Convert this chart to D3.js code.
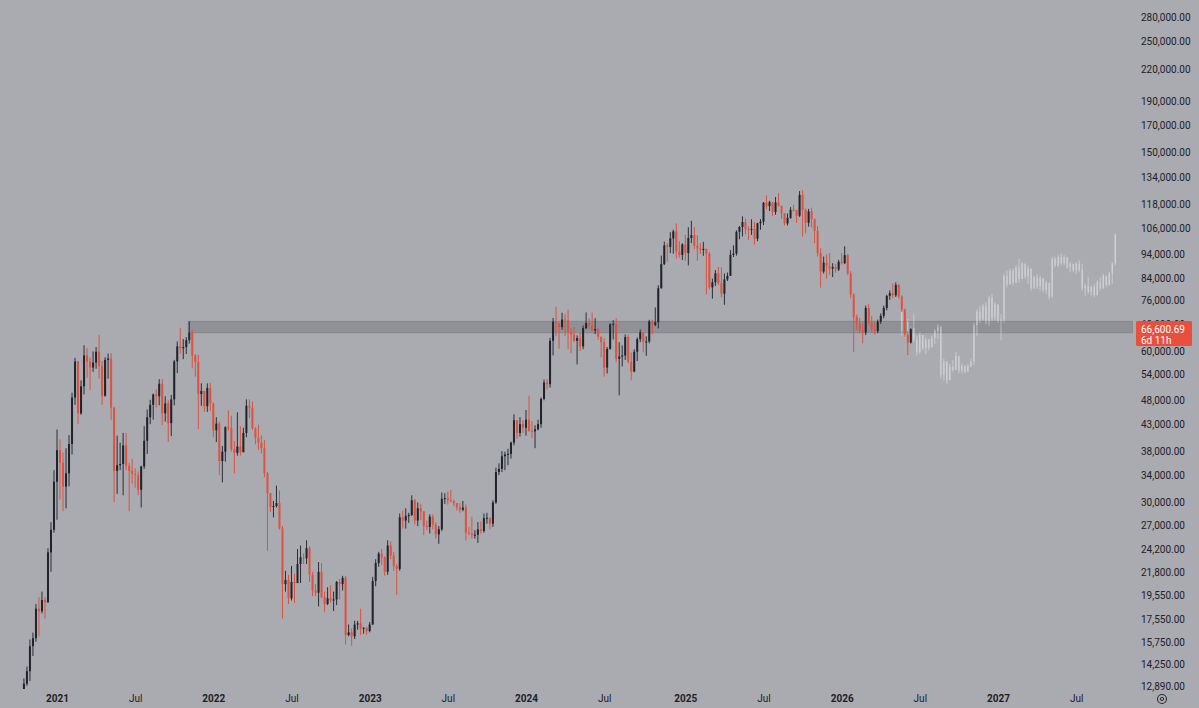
<!DOCTYPE html>
<html>
<head>
<meta charset="utf-8">
<script src="https://cdn.jsdelivr.net/npm/d3@7"></script>
<style>
  html, body { margin: 0; padding: 0; background: #a9abb0; }
  svg { display: block; }
  text { font-family: Roboto, "Liberation Sans", sans-serif; }
</style>
</head>
<body>
<div class="chart"></div>
<script>
// weekly candles, prices in thousands of USD, open = previous close
var weekStart = "2020-10-19";
var firstOpen = 11.5;

var close = [
  13.03, 13.8, 15.48, 16.06, 18.4, 18.18, 19.15, 18.95, 23.84, 26.45, 33.0,
  // 2021
  38.15, 36.0, 32.26, 34.3, 39.25, 48.6, 57.4, 45.2, 51.2, 59.0, 57.3, 55.8, 57.1,
  60.0, 56.2, 49.0, 57.8, 58.2, 46.4, 34.7, 35.6, 35.8, 39.0, 35.5, 34.7, 34.2,
  34.0, 31.8, 35.4, 39.85, 44.4, 47.0, 49.3, 48.9, 51.8, 45.2, 47.3, 43.2, 48.2,
  57.4, 61.5, 61.0, 61.3, 63.3, 65.5, 59.0, 57.2, 49.4, 50.1, 46.7, 50.8, 47.3,
  // 2022
  41.8, 43.1, 36.3, 37.9, 42.4, 42.2, 38.3, 37.7, 38.8, 37.8, 41.3, 46.8, 46.4,
  42.2, 40.4, 39.5, 38.5, 34.3, 31.3, 29.4, 29.5, 29.9, 26.6, 20.6, 21.0, 19.3,
  20.8, 20.7, 22.6, 23.3, 23.2, 24.3, 21.5, 20.0, 19.8, 21.8, 19.4, 18.8, 19.3,
  19.1, 19.2, 20.8, 20.6, 21.2, 16.3, 16.5, 16.2, 17.1, 17.2, 16.8, 16.85, 16.6,
  // 2023
  17.1, 20.9, 22.7, 23.7, 23.3, 21.8, 24.6, 23.5, 22.4, 22.1, 28.0, 27.6, 28.2,
  28.3, 30.3, 27.6, 29.2, 28.8, 26.9, 26.8, 28.1, 27.1, 25.9, 26.5, 30.5, 30.6,
  30.3, 30.2, 29.9, 29.3, 29.0, 29.3, 26.1, 26.0, 25.8, 25.85, 26.5, 26.3, 27.9,
  27.95, 27.2, 30.0, 34.5, 35.0, 37.1, 37.4, 37.5, 39.5, 43.8, 41.3, 43.0, 42.3,
  // 2024
  43.9, 41.7, 41.6, 42.0, 43.0, 48.3, 52.1, 51.7, 63.1, 68.9, 68.4, 67.2, 69.6,
  69.4, 65.7, 64.9, 63.1, 63.9, 61.5, 66.9, 68.5, 67.7, 66.2, 66.6, 64.3, 62.7,
  55.8, 60.8, 68.1, 68.2, 58.1, 58.7, 59.0, 64.2, 57.3, 54.8, 60.0, 63.6, 65.6,
  62.8, 62.9, 69.0, 67.9, 68.7, 80.4, 89.8, 97.9, 97.2, 101.1, 104.4, 95.2, 93.7, 98.3,
  // 2025
  94.5, 101.3, 102.6, 97.7, 96.5, 96.2, 96.3, 94.2, 80.7, 82.6, 86.1, 82.3, 78.4,
  83.7, 85.1, 93.7, 94.3, 104.2, 106.5, 109.0, 105.7, 105.5, 105.6, 100.9, 108.4, 109.2,
  119.1, 117.3, 119.4, 114.2, 119.3, 117.4, 113.5, 108.3, 111.1, 115.3, 115.2, 112.2, 123.5,
  115.2, 108.6, 114.5, 110.5, 104.7, 94.5, 86.8, 90.4,
  89.0, 88.0, 88.6, 87.6, 90.8,
  // 2026
  90.2, 93.6, 86.0, 78.0, 70.4, 68.3, 66.4, 65.6, 73.4, 68.6, 66.6, 66.0, 68.9,
  70.8, 73.4, 77.6, 78.6, 77.8, 81.6, 77.4, 72.8, 65.0, 62.6, 66.60069
];

var high = [
  13.35, 14.1, 15.96, 16.48, 18.8, 19.4, 19.9, 19.4, 24.3, 27.4, 34.8,
  41.95, 40.1, 37.8, 38.5, 40.9, 49.7, 58.35, 57.5, 52.6, 61.8, 61.0, 58.4, 60.1,
  61.3, 64.85, 57.5, 58.5, 59.5, 59.6, 46.6, 40.8, 39.5, 41.3, 41.3, 36.0, 36.6,
  35.1, 34.6, 35.5, 42.6, 46.0, 48.1, 49.5, 50.5, 52.9, 52.9, 48.9, 48.0, 49.2,
  57.8, 62.9, 67.0, 63.6, 64.2, 69.0, 66.3, 59.4, 59.2, 51.9, 50.2, 51.9, 52.0,
  47.5, 44.4, 43.5, 38.9, 42.6, 45.8, 44.7, 39.8, 45.4, 42.6, 42.3, 48.2, 48.2,
  47.7, 42.4, 42.9, 40.8, 40.0, 34.5, 31.0, 30.2, 32.4, 31.7, 26.9, 21.9, 21.5,
  22.4, 21.6, 24.2, 24.6, 23.7, 25.2, 24.5, 21.8, 20.6, 22.8, 22.7, 19.9, 20.3,
  20.5, 19.9, 20.9, 21.1, 21.4, 21.4, 17.1, 16.8, 17.4, 17.4, 18.4, 16.9, 16.9,
  17.3, 21.3, 23.1, 23.9, 24.2, 23.4, 25.2, 25.1, 23.9, 22.6, 28.5, 28.9, 29.2,
  28.6, 31.0, 30.5, 30.0, 29.8, 28.5, 27.6, 28.4, 28.4, 27.4, 26.9, 31.4, 31.3,
  31.5, 31.8, 30.4, 29.9, 29.9, 30.2, 29.7, 26.8, 28.1, 26.4, 27.4, 27.5, 28.5,
  28.6, 28.0, 30.3, 35.2, 35.9, 38.0, 37.9, 38.4, 39.7, 45.0, 43.4, 44.4, 43.8,
  45.9, 49.0, 43.6, 42.8, 43.9, 48.6, 52.8, 52.9, 64.0, 70.1, 73.8, 68.1, 71.8,
  71.3, 72.8, 66.9, 67.2, 64.7, 65.5, 67.7, 71.9, 70.0, 71.9, 70.0, 66.9, 63.4,
  63.8, 61.3, 68.4, 69.4, 70.0, 62.7, 61.8, 65.0, 64.9, 59.8, 60.7, 64.1, 66.5,
  65.5, 64.4, 69.5, 69.5, 73.6, 81.5, 93.4, 99.6, 98.8, 104.0, 105.2, 108.3, 99.9, 98.9,
  102.7, 106.4, 109.6, 106.5, 102.5, 98.8, 99.5, 96.5, 95.0, 84.0, 87.4, 88.7, 88.5,
  86.0, 86.4, 95.8, 97.9, 104.9, 107.0, 111.9, 110.7, 106.8, 110.4, 108.9, 108.6, 110.5,
  119.5, 123.2, 120.2, 119.3, 122.3, 124.5, 117.6, 113.5, 113.4, 116.7, 117.9, 115.3, 125.7,
  126.2, 116.0, 115.8, 116.4, 110.7, 107.0, 96.6, 93.0,
  94.0, 94.5, 90.2, 89.8, 91.6,
  94.6, 97.5, 94.0, 87.0, 78.6, 71.2, 70.0, 68.4, 74.2, 74.8, 70.8, 69.0, 69.6,
  71.6, 74.2, 78.0, 79.6, 82.3, 82.6, 82.0, 77.8, 73.2, 66.0, 67.0
];

var low = [
  11.4, 12.9, 13.2, 14.8, 15.8, 16.2, 18.0, 17.6, 18.9, 21.8, 26.1,
  27.7, 30.4, 28.8, 29.2, 32.3, 37.4, 47.0, 43.0, 44.9, 49.3, 53.2, 50.3, 54.7,
  55.5, 53.0, 47.0, 48.8, 53.0, 43.8, 30.0, 31.2, 34.8, 31.0, 34.8, 28.8, 32.7,
  32.1, 31.0, 29.3, 35.0, 37.5, 43.0, 43.9, 46.4, 46.9, 42.8, 43.5, 39.6, 40.7,
  46.9, 54.4, 59.5, 58.0, 59.4, 62.3, 55.6, 53.5, 42.0, 46.8, 45.5, 45.5, 45.7,
  40.5, 39.6, 34.0, 32.9, 36.2, 41.7, 37.9, 34.3, 37.2, 37.2, 38.1, 40.5, 44.2,
  41.9, 39.2, 38.2, 37.6, 33.7, 24.0, 28.7, 28.0, 29.3, 26.5, 17.6, 19.9, 18.8,
  19.1, 18.9, 20.8, 20.7, 22.6, 22.6, 20.8, 19.5, 19.5, 18.6, 19.3, 18.1, 18.7,
  18.9, 18.2, 18.7, 19.2, 20.0, 15.6, 16.2, 15.5, 16.0, 16.7, 16.3, 16.4, 16.3,
  16.5, 17.1, 20.4, 22.3, 22.5, 21.4, 21.5, 23.1, 21.9, 19.6, 21.9, 26.6, 26.6,
  27.3, 28.2, 27.1, 26.9, 27.7, 25.8, 26.4, 26.0, 26.5, 25.4, 24.8, 26.3, 29.8,
  29.7, 30.0, 29.5, 28.9, 28.6, 28.8, 25.2, 25.8, 25.4, 25.4, 24.9, 26.0, 26.1,
  27.2, 26.5, 26.8, 29.8, 34.0, 34.5, 34.8, 35.6, 36.7, 39.0, 40.2, 40.6, 41.3,
  40.8, 41.5, 40.3, 38.5, 41.8, 42.3, 48.0, 50.5, 50.9, 59.0, 64.5, 60.8, 66.4,
  64.5, 60.8, 59.6, 62.8, 56.6, 60.2, 60.7, 66.6, 66.7, 66.0, 65.1, 63.4, 58.5,
  53.5, 54.3, 60.6, 63.5, 57.2, 49.1, 56.1, 57.8, 56.9, 52.6, 54.6, 57.5, 62.7,
  59.9, 58.9, 62.4, 65.0, 67.5, 66.8, 80.2, 89.4, 90.8, 94.5, 94.2, 92.2, 92.5, 91.5,
  91.2, 89.3, 98.9, 96.2, 91.2, 94.1, 93.3, 78.2, 80.0, 76.6, 81.2, 81.6, 77.1,
  74.5, 83.1, 85.1, 92.8, 93.4, 100.7, 102.0, 103.1, 100.4, 102.7, 98.3, 99.8, 105.2,
  107.5, 115.7, 114.7, 112.0, 112.7, 116.9, 110.7, 107.3, 107.3, 110.6, 114.4, 108.6, 111.6,
  102.0, 103.5, 106.7, 106.3, 98.9, 93.0, 80.6, 86.0,
  84.0, 85.5, 84.6, 86.3, 87.0,
  89.6, 89.8, 85.5, 76.8, 60.0, 66.2, 65.4, 62.4, 64.8, 67.8, 65.8, 65.0, 65.4,
  68.2, 70.0, 72.6, 76.2, 76.8, 77.2, 76.6, 72.0, 64.2, 59.1, 62.3
];

// projected (ghost) bars
var ghostStart = "2026-05-25";
var ghostFirstOpen = 72.0;
var ghostClose = [
  66.0, 68.8, 63.4, 67.0,
  63.5, 60.0, 64.8, 61.0, 63.5, 61.2, 64.0, 66.0, 67.2, 54.0,
  57.4, 52.6, 56.0, 55.2, 58.8, 55.0, 56.2, 54.8, 56.2, 57.4,
  67.8, 72.2, 69.6, 74.0, 69.0, 77.0, 70.2, 74.6, 69.2, 69.6,
  85.0, 81.8, 87.0, 82.4, 88.4, 83.8, 90.0, 84.8, 88.0, 80.4,
  84.4, 81.0, 84.2, 79.8, 82.4, 77.4, 92.0, 89.4, 92.8, 90.2,
  92.8, 88.6, 90.0, 87.2, 90.0, 87.4, 80.4, 81.2, 79.0, 80.8,
  77.8, 82.6, 80.4, 85.2, 81.6, 86.0, 90.0, 102.8
];
var ghostHigh = [
  72.8, 69.5, 69.8, 67.5,
  71.3, 64.6, 65.6, 64.6, 64.1, 63.6, 64.6, 66.6, 68.1, 67.6,
  58.1, 57.2, 56.8, 57.7, 59.9, 57.7, 56.8, 56.4, 56.8, 58.1,
  68.6, 73.0, 74.1, 74.7, 75.3, 77.7, 78.3, 75.3, 72.4, 71.3,
  85.9, 87.2, 87.9, 87.9, 89.3, 92.1, 90.7, 89.3, 89.3, 86.5,
  85.2, 85.9, 85.2, 83.9, 83.3, 82.0, 92.9, 92.9, 93.6, 94.4,
  93.6, 92.1, 90.7, 90.0, 90.7, 91.4, 90.0, 82.0, 84.6, 81.4,
  82.0, 83.3, 84.6, 85.9, 85.2, 86.5, 90.7, 103.5
];
var ghostLow = [
  64.6, 64.0, 62.8, 62.8,
  62.7, 59.0, 59.4, 60.4, 59.4, 60.4, 61.3, 62.2, 63.6, 53.0,
  52.6, 51.8, 53.0, 54.7, 55.5, 54.3, 54.3, 54.3, 54.7, 55.9,
  56.4, 64.6, 68.6, 69.2, 68.1, 67.6, 69.2, 69.2, 68.6, 63.2,
  68.6, 80.7, 82.0, 81.4, 83.3, 82.6, 85.2, 83.9, 82.0, 79.5,
  80.1, 80.1, 79.5, 78.9, 78.3, 76.5, 77.0, 88.6, 88.6, 89.3,
  89.3, 87.9, 86.5, 86.5, 85.9, 86.5, 79.5, 77.7, 78.3, 77.7,
  77.1, 78.9, 79.5, 80.1, 80.7, 81.4, 82.0, 89.3
];

var yTicks = [280000, 250000, 220000, 190000, 170000, 150000, 134000, 118000, 106000,
  94000, 84000, 76000, 68000, 60000, 54000, 48000, 43000, 38000, 34000, 30000,
  27000, 24200, 21800, 19550, 17550, 15750, 14250, 12890];
var xTickDates = ["2021-01-04", "2021-07-05", "2022-01-03", "2022-07-04", "2023-01-02",
  "2023-07-03", "2024-01-01", "2024-07-01", "2025-01-06", "2025-07-07", "2026-01-05",
  "2026-07-06", "2027-01-04", "2027-07-05"];
var xTickLabels = ["2021", "Jul", "2022", "Jul", "2023", "Jul", "2024", "Jul",
  "2025", "Jul", "2026", "Jul", "2027", "Jul"];

var zoneStart = "2021-11-08", zoneTop = 69000, zoneBottom = 65500;
var lastPrice = 66600.69, countdown = "6d 11h";

var width = 1199, height = 708, plotRight = 1133, plotBottom = 689;
var upColor = "#20232a", downColor = "#e0513e";

var parse = d3.timeParse("%Y-%m-%d");

function buildCandles(start, open0, c, h, l) {
  var t0 = parse(start);
  return c.map(function(v, i) {
    var o = i === 0 ? open0 : c[i - 1];
    return {
      date: d3.timeWeek.offset(t0, i),
      o: o * 1000, c: v * 1000,
      h: Math.max(h[i], o, v) * 1000,
      l: Math.min(l[i], o, v) * 1000
    };
  });
}

var candles = buildCandles(weekStart, firstOpen, close, high, low);
var ghosts = buildCandles(ghostStart, ghostFirstOpen, ghostClose, ghostHigh, ghostLow);

var x = d3.scaleTime().domain([parse("2021-01-04"), parse("2027-01-04")]).range([57, 998]);
var y = d3.scaleLog().domain([12890, 280000]).range([686, 17]);

var svg = d3.select(".chart").append("svg").attr("width", width).attr("height", height);

svg.append("rect").attr("width", width).attr("height", height).attr("fill", "#a9abb0");

svg.append("clipPath").attr("id", "plot")
  .append("rect").attr("x", 0).attr("y", 0).attr("width", plotRight).attr("height", plotBottom);

var plot = svg.append("g").attr("clip-path", "url(#plot)");

// horizontal zone
plot.append("rect")
  .attr("x", x(parse(zoneStart)) - 1)
  .attr("y", y(zoneTop))
  .attr("width", plotRight - x(parse(zoneStart)) + 1)
  .attr("height", y(zoneBottom) - y(zoneTop))
  .attr("fill", "#8f9196")
  .attr("stroke", "#85878c")
  .attr("stroke-width", 1);

// ghost projection
var gg = plot.selectAll("g.ghost").data(ghosts).enter().append("g").attr("class", "ghost");
gg.append("line")
  .attr("x1", function(d) { return x(d.date); })
  .attr("x2", function(d) { return x(d.date); })
  .attr("y1", function(d) { return y(d.h); })
  .attr("y2", function(d) { return y(d.l); })
  .attr("stroke", "rgba(255,255,255,0.38)").attr("stroke-width", 1);
gg.append("rect")
  .attr("x", function(d) { return x(d.date) - 0.9; })
  .attr("width", 1.8)
  .attr("y", function(d) { return y(Math.max(d.o, d.c)); })
  .attr("height", function(d) { return Math.max(1, Math.abs(y(d.o) - y(d.c))); })
  .attr("fill", "rgba(255,255,255,0.22)");

// candles
var g = plot.selectAll("g.candle").data(candles).enter().append("g").attr("class", "candle");
g.append("line")
  .attr("x1", function(d) { return x(d.date); })
  .attr("x2", function(d) { return x(d.date); })
  .attr("y1", function(d) { return y(d.h); })
  .attr("y2", function(d) { return y(d.l); })
  .attr("stroke", function(d) { return d.c >= d.o ? "#2b2e35" : "#dc523f"; })
  .attr("stroke-width", 1);
g.append("rect")
  .attr("x", function(d) { return x(d.date) - 1; })
  .attr("width", 2)
  .attr("y", function(d) { return y(Math.max(d.o, d.c)); })
  .attr("height", function(d) { return Math.max(1, Math.abs(y(d.o) - y(d.c))); })
  .attr("fill", function(d) { return d.c >= d.o ? upColor : downColor; });

// time axis
var xAxis = d3.axisBottom(x)
  .tickValues(xTickDates.map(parse))
  .tickFormat(function(d, i) { return xTickLabels[i]; })
  .tickSize(0).tickPadding(6);
var gx = svg.append("g").attr("transform", "translate(0," + plotBottom + ")").call(xAxis);
gx.select(".domain").remove();
gx.selectAll("text")
  .attr("font-size", 10)
  .attr("font-family", "Roboto, sans-serif")
  .attr("fill", "#1d2026")
  .attr("font-weight", function(d, i) { return xTickLabels[i] === "Jul" ? 400 : 700; });

// price axis
var yAxis = d3.axisRight(y).tickValues(yTicks).tickFormat(d3.format(",.2f")).tickSize(0).tickPadding(8);
var gy = svg.append("g").attr("transform", "translate(" + plotRight + ",0)").call(yAxis);
gy.select(".domain").remove();
gy.selectAll("text")
  .attr("font-size", 10)
  .attr("font-family", "Roboto, sans-serif")
  .attr("fill", "#1d2026");

// last price label
var py = y(lastPrice);
var label = svg.append("g");
label.append("rect")
  .attr("x", 1136).attr("y", py - 8).attr("width", 56).attr("height", 25)
  .attr("rx", 1.5)
  .attr("fill", "#e8503d");
label.append("text")
  .attr("x", 1141).attr("y", py).attr("dy", "0.35em")
  .attr("font-size", 10).attr("fill", "#ffffff")
  .text(d3.format(",.2f")(lastPrice));
label.append("text")
  .attr("x", 1141).attr("y", py + 11).attr("dy", "0.35em")
  .attr("font-size", 10).attr("fill", "#ffffff")
  .text(countdown);

// settings icon
svg.append("circle").attr("cx", 1162).attr("cy", 699).attr("r", 4.5)
  .attr("fill", "none").attr("stroke", "#2a2d33").attr("stroke-width", 1.1);
svg.append("circle").attr("cx", 1162).attr("cy", 699).attr("r", 1.6)
  .attr("fill", "none").attr("stroke", "#2a2d33").attr("stroke-width", 1);
</script>
</body>
</html>
